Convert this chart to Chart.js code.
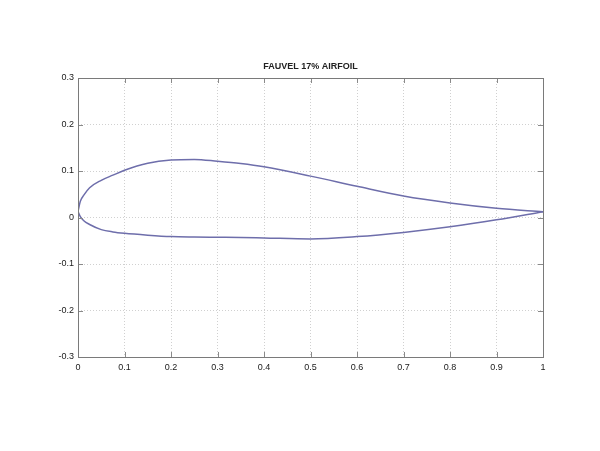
<!DOCTYPE html>
<html>
<head>
<meta charset="utf-8">
<script src="https://cdn.jsdelivr.net/npm/chart.js@4.4.0/dist/chart.umd.min.js"></script>
<style>
html,body{margin:0;padding:0;background:#fff;}
#wrap{width:600px;height:451px;position:relative;}
</style>
</head>
<body>
<div id="wrap"><canvas id="c" width="600" height="451"></canvas></div>
<script>
const chartTitle = "FAUVEL 17% AIRFOIL";
const xStations = [0, 0.005, 0.0125, 0.025, 0.05, 0.075, 0.1, 0.15, 0.2, 0.25, 0.3, 0.35, 0.4, 0.5, 0.6, 0.7, 0.8, 0.9, 1.0];
const upperY = [0.013, 0.035, 0.048, 0.064, 0.080, 0.091, 0.1015, 0.1166, 0.1237, 0.125, 0.121, 0.116, 0.109, 0.089, 0.067, 0.046, 0.031, 0.0197, 0.0125];
const lowerY = [0.013, 0.002, -0.007, -0.015, -0.026, -0.031, -0.034, -0.038, -0.041, -0.042, -0.0425, -0.043, -0.044, -0.046, -0.041, -0.032, -0.020, -0.005, 0.0125];
const xTicks = [0, 0.1, 0.2, 0.3, 0.4, 0.5, 0.6, 0.7, 0.8, 0.9, 1];
const yTicks = [-0.3, -0.2, -0.1, 0, 0.1, 0.2, 0.3];

const upperPts = xStations.map((x, i) => ({x: x, y: upperY[i]}));
const lowerPts = xStations.map((x, i) => ({x: x, y: lowerY[i]}));

const lineColor = '#6e6eab';

const frame = {
  id: 'frame',
  afterDraw(chart) {
    const ctx = chart.ctx;
    const a = chart.chartArea;
    const xs = chart.scales.x, ys = chart.scales.y;
    ctx.save();
    ctx.strokeStyle = '#8a8a8a';
    ctx.lineWidth = 1;
    const L = 5;
    ctx.beginPath();
    xTicks.forEach(v => {
      const px = Math.round(xs.getPixelForValue(v)) + 0.5;
      ctx.moveTo(px, a.bottom); ctx.lineTo(px, a.bottom - L);
      ctx.moveTo(px, a.top); ctx.lineTo(px, a.top + L);
    });
    yTicks.forEach(v => {
      const py = Math.round(ys.getPixelForValue(v)) + 0.5;
      ctx.moveTo(a.left, py); ctx.lineTo(a.left + L, py);
      ctx.moveTo(a.right, py); ctx.lineTo(a.right - L, py);
    });
    ctx.stroke();
    ctx.strokeStyle = '#7a7a7a';
    ctx.strokeRect(Math.round(a.left) + 0.5, Math.round(a.top) + 0.5, Math.round(a.right - a.left), Math.round(a.bottom - a.top));
    ctx.restore();
  }
};

new Chart(document.getElementById('c'), {
  type: 'scatter',
  data: {
    datasets: [
      {label: 'upper', data: upperPts, showLine: true, borderColor: lineColor, borderWidth: 1.5, pointRadius: 0, cubicInterpolationMode: 'monotone', fill: false},
      {label: 'lower', data: lowerPts, showLine: true, borderColor: lineColor, borderWidth: 1.5, pointRadius: 0, cubicInterpolationMode: 'monotone', fill: false}
    ]
  },
  options: {
    responsive: false,
    animation: false,
    devicePixelRatio: 1,
    layout: {padding: {left: 0, right: 57, top: 0, bottom: 0}},
    plugins: {
      legend: {display: false},
      tooltip: {enabled: false},
      title: {
        display: true,
        text: chartTitle,
        fullSize: false,
        color: '#222',
        font: {family: 'Liberation Sans, Arial, sans-serif', size: 9, weight: 'bold', lineHeight: 1.2},
        padding: {top: 61, bottom: 6.2}
      }
    },
    scales: {
      x: {
        type: 'linear', min: 0, max: 1,
        afterBuildTicks(s) { s.ticks = xTicks.map(v => ({value: v})); },
        afterFit(s) { s.height = 94; },
        ticks: {
          color: '#1a1a1a', padding: 5, maxRotation: 0,
          font: {family: 'Liberation Sans, Arial, sans-serif', size: 9},
          callback: v => String(v)
        },
        grid: {color: '#d0d0d0', drawTicks: false, lineWidth: 1},
        border: {display: false, dash: [1, 2]}
      },
      y: {
        type: 'linear', min: -0.3, max: 0.3,
        afterBuildTicks(s) { s.ticks = yTicks.map(v => ({value: v})); },
        afterFit(s) { s.width = 78; },
        ticks: {
          color: '#1a1a1a', padding: 4,
          font: {family: 'Liberation Sans, Arial, sans-serif', size: 9},
          callback: v => String(Math.round(v * 10) / 10)
        },
        grid: {color: '#d0d0d0', drawTicks: false, lineWidth: 1},
        border: {display: false, dash: [1, 2]}
      }
    }
  },
  plugins: [frame]
});
</script>
</body>
</html>
